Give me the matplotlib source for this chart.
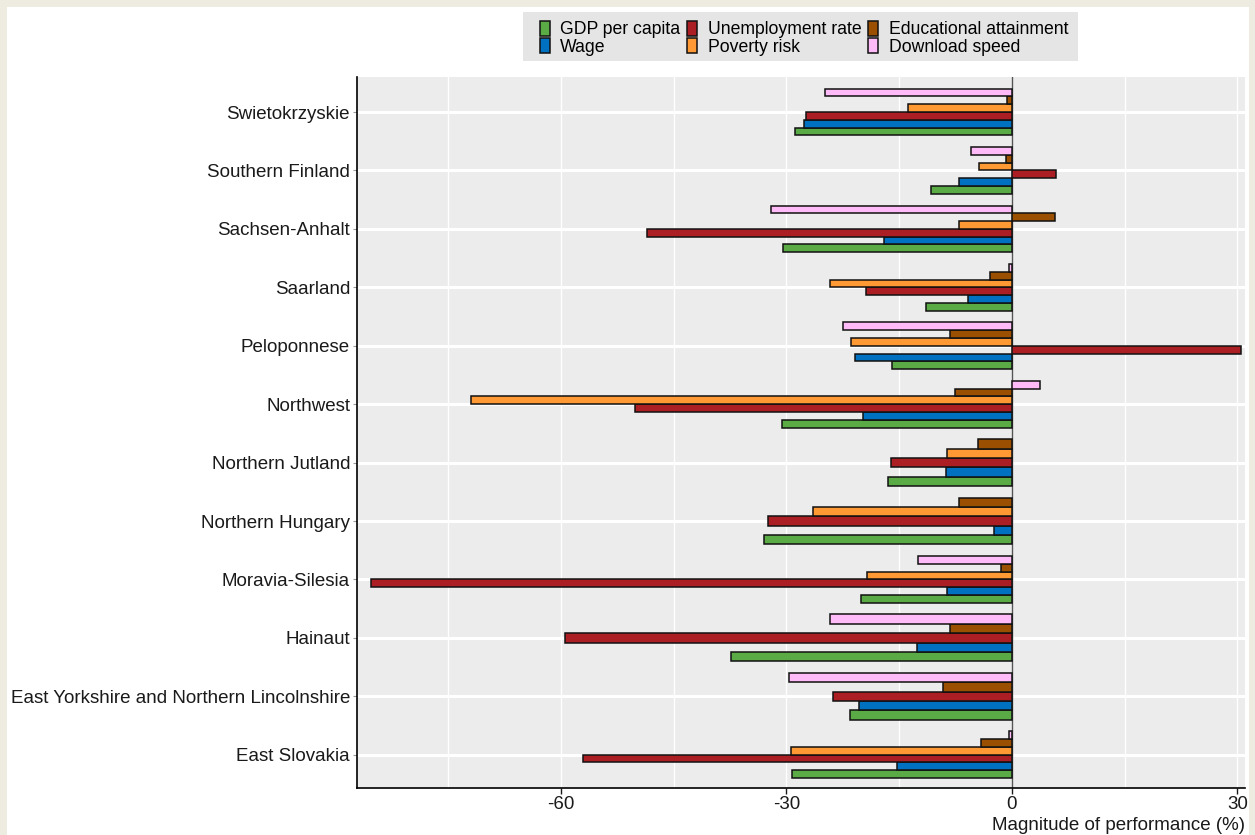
import numpy as np
import matplotlib.pyplot as plt
from matplotlib.patches import Rectangle

plt.rcParams['font.family'] = ['Liberation Sans', 'DejaVu Sans']
plt.rcParams['axes.unicode_minus'] = False

# regions, bottom to top
regions = ['East Slovakia', 'East Yorkshire and Northern Lincolnshire', 'Hainaut',
           'Moravia-Silesia', 'Northern Hungary', 'Northern Jutland', 'Northwest',
           'Peloponnese', 'Saarland', 'Sachsen-Anhalt', 'Southern Finland',
           'Swietokrzyskie']

series = ['GDP per capita', 'Wage', 'Unemployment rate', 'Poverty risk',
          'Educational attainment', 'Download speed']
colors = ['#5aab46', '#0070c0', '#ab1f24', '#ff9933', '#9a5000', '#ffbbf7']

nan = np.nan
gdp = [-29.2, -21.5, -37.3, -20.1, -33.0, -16.5, -30.6, -15.9, -11.4, -30.4, -10.8, -28.8]
wage = [-15.3, -20.3, -12.6, -8.6, -2.4, -8.8, -19.8, -20.9, -5.9, -17.0, -7.1, -27.7]
unemployment = [-57.0, -23.8, -59.4, -85.2, -32.4, -16.1, -50.1, 30.5, -19.4, -48.5, 5.9, -27.4]
poverty = [-29.4, nan, nan, -19.3, -26.5, -8.6, -72.0, -21.4, -24.2, -7.0, -4.4, -13.8]
education = [-4.1, -9.2, -8.3, -1.5, -7.0, -4.5, -7.6, -8.3, -2.9, 5.7, -0.85, -0.6]
download = [-0.4, -29.6, -24.2, -12.5, nan, nan, 3.8, -22.5, -0.4, -32.0, -5.4, -24.8]

values = np.array([gdp, wage, unemployment, poverty, education, download])


def main():
    fig = plt.figure(figsize=(12.55, 8.35), dpi=100, facecolor='#eeebe1')
    fig.patches.append(Rectangle((7 / 1255, 0), 1242 / 1255, 828 / 835,
                                 transform=fig.transFigure, facecolor='white',
                                 edgecolor='none', zorder=-1))
    # gray panel behind the legend
    fig.patches.append(Rectangle((523 / 1255, 1 - 61 / 835), 555 / 1255, 49 / 835,
                                 transform=fig.transFigure, facecolor='#e5e5e5',
                                 edgecolor='none', zorder=0))
    ax = fig.add_axes([357 / 1255, 1 - 788 / 835, 888 / 1255, 711 / 835])
    ax.set_facecolor('#ececec')

    # dodge: the bars present in each group share the group height
    group = 0.8
    present = ~np.isnan(values)
    n_present = present.sum(axis=0)
    rank = np.cumsum(present, axis=0) - 1
    y = np.arange(len(regions))
    for j, name in enumerate(series):
        mask = present[j]
        h = group / n_present[mask]
        pos = y[mask] - group / 2 + h * (rank[j][mask] + 0.5)
        ax.barh(pos, values[j][mask], height=h, color=colors[j],
                edgecolor='#111111', linewidth=1.1, label=name, zorder=3)

    ax.axvline(0, color='#555555', lw=1, zorder=2)

    ax.set_xlim(-87.1, 31.0)
    ax.set_ylim(-0.57, 11.6)
    ax.set_xticks([-60, -30, 0, 30])
    ax.set_xticks([-75, -45, -15, 15], minor=True)
    ax.set_yticks(y)
    ax.set_yticklabels(regions, fontsize=13.5, color='#1a1a1a')
    ax.tick_params(axis='x', labelsize=13.5, length=4, width=1, colors='#1a1a1a',
                   pad=2)
    ax.tick_params(axis='x', which='minor', length=0)
    ax.tick_params(axis='y', length=3, color='#999999', pad=2)
    ax.set_axisbelow(True)
    ax.grid(axis='x', which='both', color='white', lw=1.0)
    ax.grid(axis='y', color='white', lw=2.2)
    for s in ['top', 'right']:
        ax.spines[s].set_visible(False)
    for s in ['left', 'bottom']:
        ax.spines[s].set_color('black')
        ax.spines[s].set_linewidth(1.2)

    ax.set_xlabel('Magnitude of performance (%)', loc='right', fontsize=13.5,
                  color='#1a1a1a', labelpad=3)

    handles, labels = ax.get_legend_handles_labels()
    fig.legend(handles, labels, ncol=3, loc='upper left',
               bbox_to_anchor=(540 / 1255, 1 - 21 / 835), borderaxespad=0,
               fontsize=12.7, frameon=False, handlelength=0.55,
               handleheight=0.9, handletextpad=0.6, columnspacing=0.4,
               labelspacing=0.0, borderpad=0)

    fig.savefig('out.png', dpi=100, facecolor=fig.get_facecolor())


if __name__ == '__main__':
    main()
